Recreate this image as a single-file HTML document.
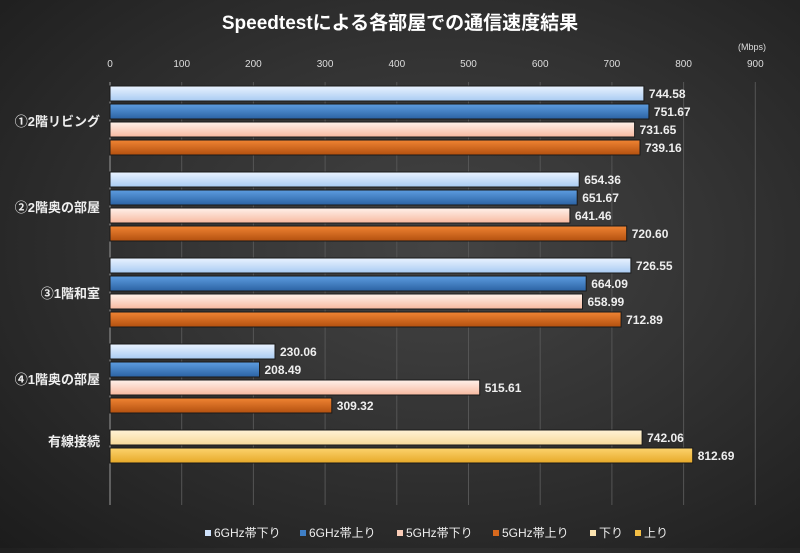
<!DOCTYPE html>
<html><head><meta charset="utf-8"><style>
body{margin:0;width:800px;height:548px;overflow:hidden;background:radial-gradient(ellipse at 55% 45%,#444 0%,#333 45%,#1c1c1c 100%);font-family:"Liberation Sans","Noto Sans CJK JP",sans-serif;color:#eee}
</style></head><body>
<svg width="800" height="548" xmlns="http://www.w3.org/2000/svg" font-family="Liberation Sans, Noto Sans CJK JP, sans-serif">
<defs>
<linearGradient id="g1" x1="0" y1="0" x2="0" y2="1"><stop offset="0" stop-color="#eaf3ff"/><stop offset="1" stop-color="#a9cbf2"/></linearGradient>
<linearGradient id="g2" x1="0" y1="0" x2="0" y2="1"><stop offset="0" stop-color="#5d9de0"/><stop offset="1" stop-color="#2b62a3"/></linearGradient>
<linearGradient id="g3" x1="0" y1="0" x2="0" y2="1"><stop offset="0" stop-color="#fff1ea"/><stop offset="1" stop-color="#f7b9a0"/></linearGradient>
<linearGradient id="g4" x1="0" y1="0" x2="0" y2="1"><stop offset="0" stop-color="#f08433"/><stop offset="1" stop-color="#b3500f"/></linearGradient>
<linearGradient id="g5" x1="0" y1="0" x2="0" y2="1"><stop offset="0" stop-color="#fff3d6"/><stop offset="1" stop-color="#f6d99a"/></linearGradient>
<linearGradient id="g6" x1="0" y1="0" x2="0" y2="1"><stop offset="0" stop-color="#fcd36e"/><stop offset="1" stop-color="#e7a928"/></linearGradient>
</defs>
<text x="400" y="29" text-anchor="middle" fill="#fff" font-size="19" font-weight="bold">Speedtestによる各部屋での通信速度結果</text>
<text x="752" y="50" text-anchor="middle" fill="#ddd" font-size="9">(Mbps)</text>
<g stroke="#555" stroke-width="1">
<line x1="181.7" y1="82" x2="181.7" y2="505"/><line x1="253.4" y1="82" x2="253.4" y2="505"/><line x1="325.1" y1="82" x2="325.1" y2="505"/><line x1="396.8" y1="82" x2="396.8" y2="505"/><line x1="468.5" y1="82" x2="468.5" y2="505"/><line x1="540.2" y1="82" x2="540.2" y2="505"/><line x1="611.9" y1="82" x2="611.9" y2="505"/><line x1="683.6" y1="82" x2="683.6" y2="505"/><line x1="755.3" y1="82" x2="755.3" y2="505"/>
</g>
<line x1="110" y1="82" x2="110" y2="505" stroke="#999"/>
<g fill="#ddd" font-size="10" text-anchor="middle">
<text x="110" y="67">0</text><text x="181.7" y="67">100</text><text x="253.4" y="67">200</text><text x="325.1" y="67">300</text><text x="396.8" y="67">400</text><text x="468.5" y="67">500</text><text x="540.2" y="67">600</text><text x="611.9" y="67">700</text><text x="683.6" y="67">800</text><text x="755.3" y="67">900</text>
</g>
<g stroke="#1a1a1a" stroke-width="1">
<rect x="110" y="86" width="533.9" height="15" fill="url(#g1)"/>
<rect x="110" y="104" width="538.9" height="15" fill="url(#g2)"/>
<rect x="110" y="122" width="524.6" height="15" fill="url(#g3)"/>
<rect x="110" y="140" width="530.0" height="15" fill="url(#g4)"/>
<rect x="110" y="172" width="469.2" height="15" fill="url(#g1)"/>
<rect x="110" y="190" width="467.2" height="15" fill="url(#g2)"/>
<rect x="110" y="208" width="459.9" height="15" fill="url(#g3)"/>
<rect x="110" y="226" width="516.7" height="15" fill="url(#g4)"/>
<rect x="110" y="258" width="520.9" height="15" fill="url(#g1)"/>
<rect x="110" y="276" width="476.2" height="15" fill="url(#g2)"/>
<rect x="110" y="294" width="472.5" height="15" fill="url(#g3)"/>
<rect x="110" y="312" width="511.1" height="15" fill="url(#g4)"/>
<rect x="110" y="344" width="165.0" height="15" fill="url(#g1)"/>
<rect x="110" y="362" width="149.5" height="15" fill="url(#g2)"/>
<rect x="110" y="380" width="369.7" height="15" fill="url(#g3)"/>
<rect x="110" y="398" width="221.8" height="15" fill="url(#g4)"/>
<rect x="110" y="430" width="532.1" height="15" fill="url(#g5)"/>
<rect x="110" y="448" width="582.7" height="15" fill="url(#g6)"/>
</g>
<g fill="#eee" font-size="12" font-weight="bold">
<text x="648.9" y="98">744.58</text>
<text x="653.9" y="116">751.67</text>
<text x="639.6" y="134">731.65</text>
<text x="645.0" y="152">739.16</text>
<text x="584.2" y="184">654.36</text>
<text x="582.2" y="202">651.67</text>
<text x="574.9" y="220">641.46</text>
<text x="631.7" y="238">720.60</text>
<text x="635.9" y="270">726.55</text>
<text x="591.2" y="288">664.09</text>
<text x="587.5" y="306">658.99</text>
<text x="626.1" y="324">712.89</text>
<text x="280.0" y="356">230.06</text>
<text x="264.5" y="374">208.49</text>
<text x="484.7" y="392">515.61</text>
<text x="336.8" y="410">309.32</text>
<text x="647.1" y="442">742.06</text>
<text x="697.7" y="460">812.69</text>
</g>
<g fill="#eee" font-size="13" text-anchor="end" font-weight="bold">
<text x="100" y="126">①2階リビング</text>
<text x="100" y="212">②2階奥の部屋</text>
<text x="100" y="298">③1階和室</text>
<text x="100" y="384">④1階奥の部屋</text>
<text x="100" y="446">有線接続</text>
</g>
<g font-size="12" fill="#eee">
<rect x="205" y="530" width="6" height="6" fill="#cfe2fa"/><text x="214" y="537">6GHz帯下り</text>
<rect x="300" y="530" width="6" height="6" fill="#3f7fc6"/><text x="309" y="537">6GHz帯上り</text>
<rect x="397" y="530" width="6" height="6" fill="#fbcdb8"/><text x="406" y="537">5GHz帯下り</text>
<rect x="493" y="530" width="6" height="6" fill="#d8691d"/><text x="502" y="537">5GHz帯上り</text>
<rect x="590" y="530" width="6" height="6" fill="#fbe3b0"/><text x="599" y="537">下り</text>
<rect x="635" y="530" width="6" height="6" fill="#f3be45"/><text x="644" y="537">上り</text>
</g>
</svg>
</body></html>
